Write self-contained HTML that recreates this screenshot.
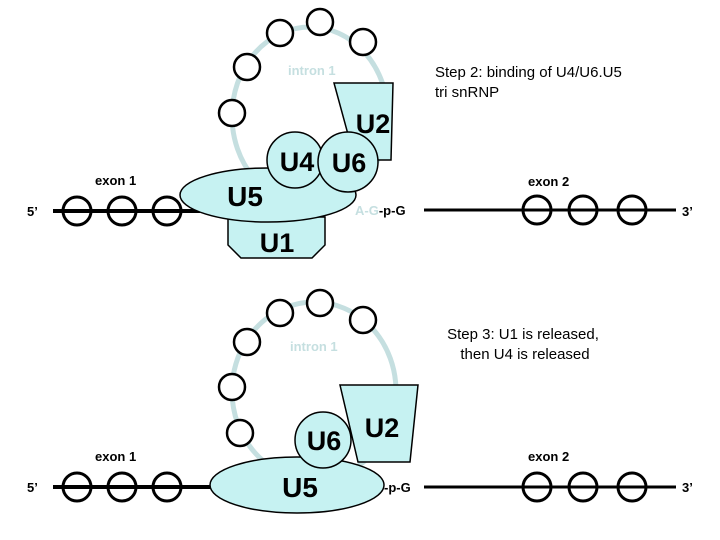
<!DOCTYPE html>
<html><head><meta charset="utf-8"><style>
html,body{margin:0;padding:0;background:#fff;}
svg{display:block;font-family:"Liberation Sans",Arial,sans-serif;}
.u{font-weight:bold;}
</style></head><body>
<svg width="720" height="540" viewBox="0 0 720 540">
<g id="top">
  <ellipse cx="310" cy="116" rx="78" ry="89" fill="none" stroke="#c5dfe0" stroke-width="5"/>
  <g fill="#fff" stroke="#000" stroke-width="2.5">
    <circle cx="247" cy="67" r="13"/><circle cx="232" cy="113" r="13"/>
    <circle cx="280" cy="33" r="13"/><circle cx="320" cy="22" r="13"/><circle cx="363" cy="42" r="13"/>
  </g>
  <text x="288" y="75" font-size="13" fill="#c5dfe0" font-weight="bold">intron 1</text>
  <line x1="53" y1="211" x2="200" y2="211" stroke="#000" stroke-width="4"/>
  <g fill="none" stroke="#000" stroke-width="3"><circle cx="77" cy="211" r="14"/><circle cx="122" cy="211" r="14"/><circle cx="167" cy="211" r="14"/></g>
  <line x1="424" y1="210" x2="676" y2="210" stroke="#000" stroke-width="3"/>
  <g fill="none" stroke="#000" stroke-width="3"><circle cx="537" cy="210" r="14"/><circle cx="583" cy="210" r="14"/><circle cx="632" cy="210" r="14"/></g>
  <polygon points="228,217 325,217 325,245 312,258 241,258 228,245" fill="#c6f2f2" stroke="#000" stroke-width="1.5"/>
  <text class="u" x="277" y="252" font-size="27" text-anchor="middle">U1</text>
  <polygon points="334,83 393,83 391,160 355,160" fill="#c6f2f2" stroke="#000" stroke-width="1.5"/>
  <text class="u" x="373" y="133" font-size="27" text-anchor="middle">U2</text>
  <ellipse cx="268" cy="195" rx="88" ry="27" fill="#c6f2f2" stroke="#000" stroke-width="1.5"/>
  <text class="u" x="245" y="206" font-size="28" text-anchor="middle">U5</text>
  <circle cx="295" cy="160" r="28" fill="#c6f2f2" stroke="#000" stroke-width="1.5"/>
  <circle cx="348" cy="162" r="30" fill="#c6f2f2" stroke="#000" stroke-width="1.5"/>
  <text class="u" x="297" y="171" font-size="27" text-anchor="middle">U4</text>
  <text class="u" x="349" y="172" font-size="27" text-anchor="middle">U6</text>
  <text x="355" y="215" font-size="13" font-weight="bold"><tspan fill="#c5dfe0">A-G</tspan><tspan fill="#000">-p-G</tspan></text>
  <text x="95" y="185" font-size="13" font-weight="bold">exon 1</text>
  <text x="27" y="216" font-size="13" font-weight="bold">5’</text>
  <text x="528" y="186" font-size="13" font-weight="bold">exon 2</text>
  <text x="682" y="216" font-size="13" font-weight="bold">3’</text>
  <text x="435" y="77" font-size="15">Step 2: binding of U4/U6.U5</text>
  <text x="435" y="97" font-size="15">tri snRNP</text>
</g>
<g id="bot">
  <ellipse cx="314" cy="391" rx="82" ry="89" fill="none" stroke="#c5dfe0" stroke-width="5"/>
  <g fill="#fff" stroke="#000" stroke-width="2.5">
    <circle cx="247" cy="342" r="13"/><circle cx="232" cy="387" r="13"/><circle cx="240" cy="433" r="13"/>
    <circle cx="280" cy="313" r="13"/><circle cx="320" cy="303" r="13"/><circle cx="363" cy="320" r="13"/>
  </g>
  <text x="290" y="351" font-size="13" fill="#c5dfe0" font-weight="bold">intron 1</text>
  <line x1="53" y1="487" x2="215" y2="487" stroke="#000" stroke-width="4"/>
  <g fill="none" stroke="#000" stroke-width="3"><circle cx="77" cy="487" r="14"/><circle cx="122" cy="487" r="14"/><circle cx="167" cy="487" r="14"/></g>
  <line x1="424" y1="487" x2="676" y2="487" stroke="#000" stroke-width="3"/>
  <g fill="none" stroke="#000" stroke-width="3"><circle cx="537" cy="487" r="14"/><circle cx="583" cy="487" r="14"/><circle cx="632" cy="487" r="14"/></g>
  <polygon points="340,385 418,385 410,462 358,462" fill="#c6f2f2" stroke="#000" stroke-width="1.5"/>
  <text class="u" x="382" y="437" font-size="27" text-anchor="middle">U2</text>
  <ellipse cx="297" cy="485" rx="87" ry="28" fill="#c6f2f2" stroke="#000" stroke-width="1.5"/>
  <text class="u" x="300" y="497" font-size="28" text-anchor="middle">U5</text>
  <circle cx="323" cy="440" r="28" fill="#c6f2f2" stroke="#000" stroke-width="1.5"/>
  <text class="u" x="324" y="450" font-size="27" text-anchor="middle">U6</text>
  <text x="384" y="492" font-size="13" font-weight="bold">-p-G</text>
  <text x="95" y="461" font-size="13" font-weight="bold">exon 1</text>
  <text x="27" y="492" font-size="13" font-weight="bold">5’</text>
  <text x="528" y="461" font-size="13" font-weight="bold">exon 2</text>
  <text x="682" y="492" font-size="13" font-weight="bold">3’</text>
  <text x="523" y="339" font-size="15" text-anchor="middle">Step 3: U1 is released,</text>
  <text x="525" y="359" font-size="15" text-anchor="middle">then U4 is released</text>
</g>
</svg>
</body></html>
